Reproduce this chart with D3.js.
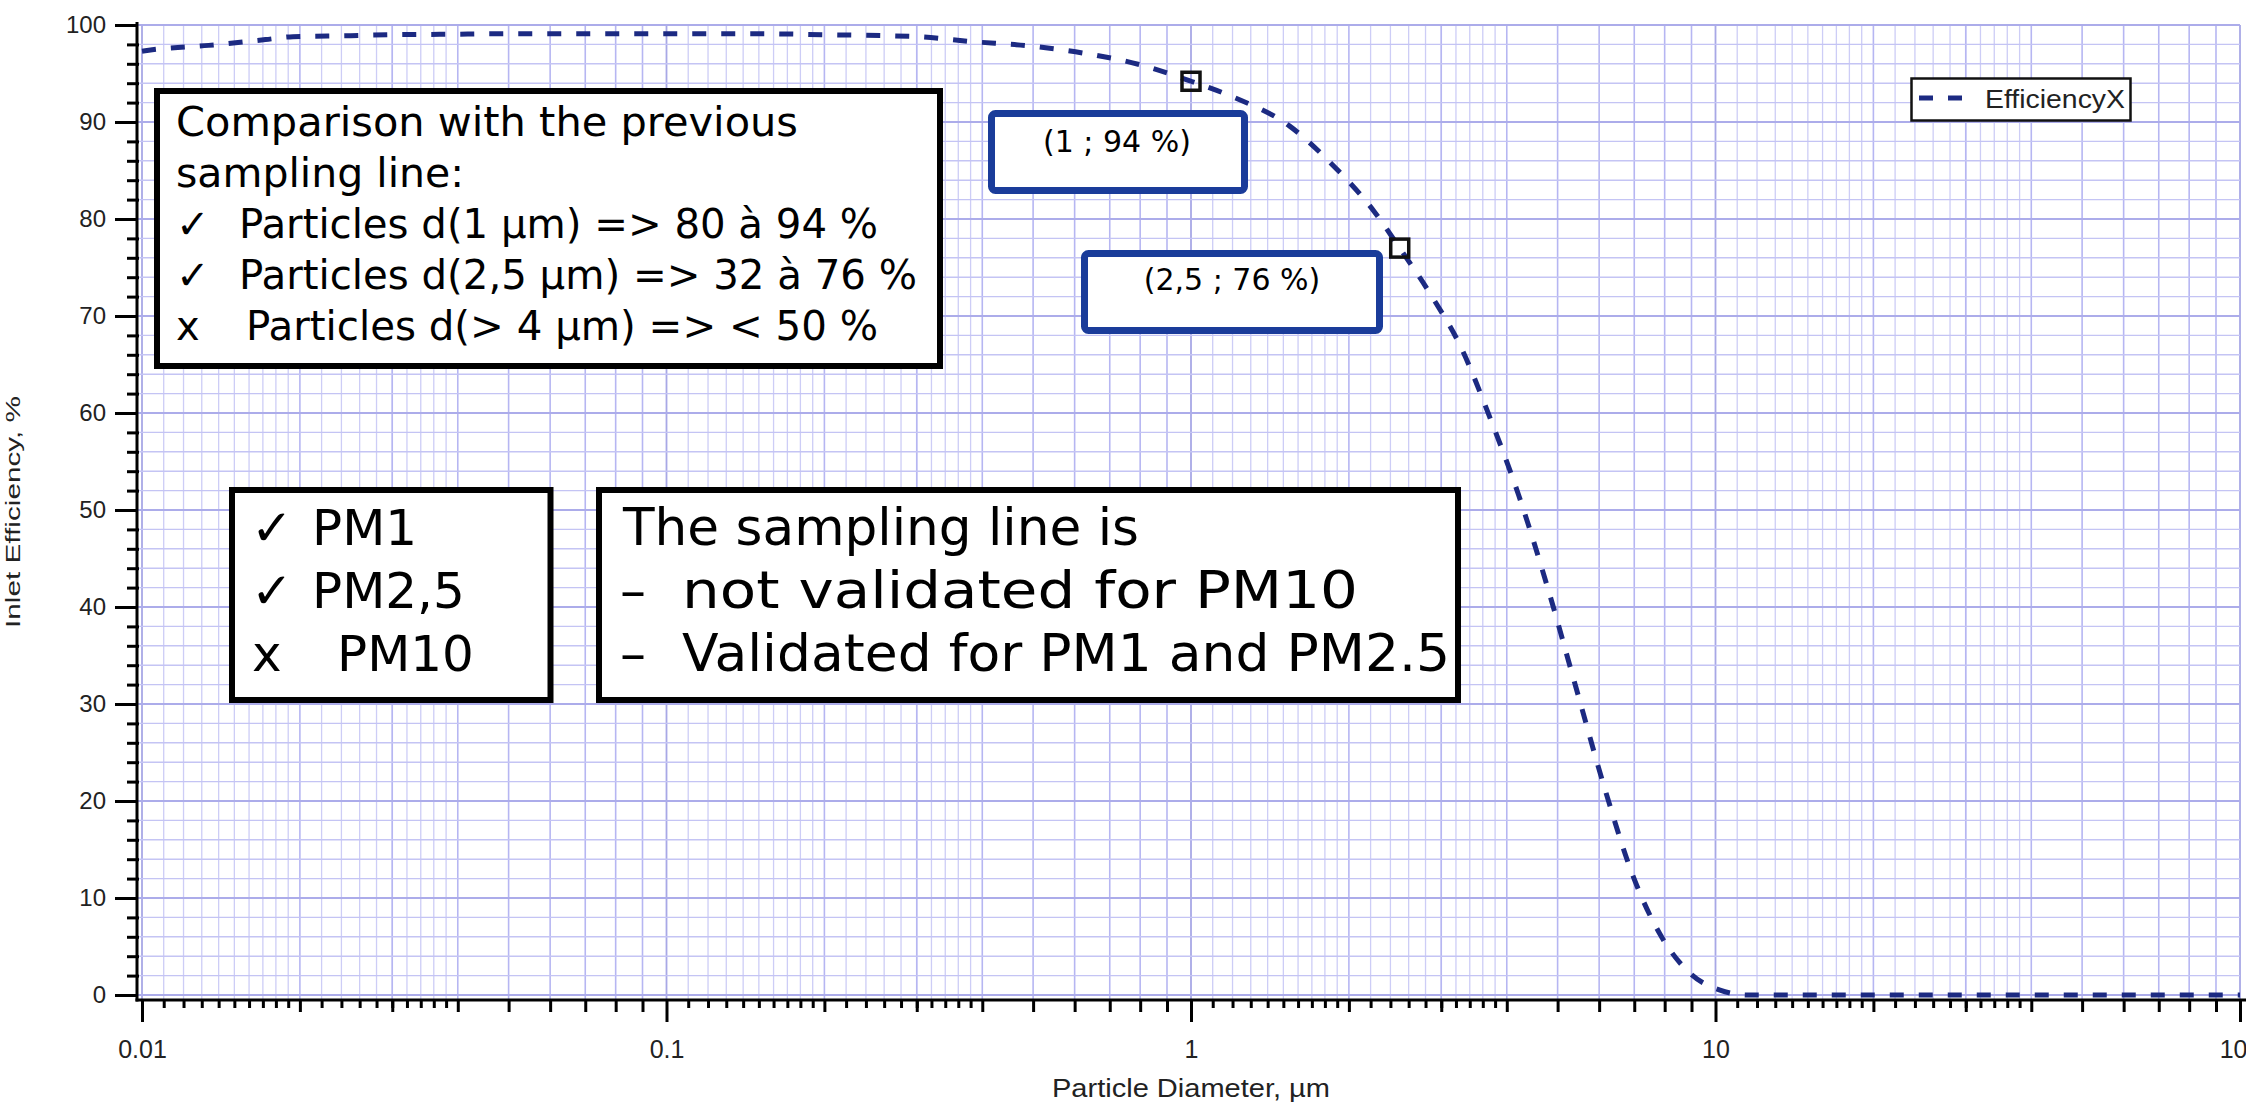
<!DOCTYPE html>
<html><head><meta charset="utf-8">
<script src="https://cdn.jsdelivr.net/npm/d3@7"></script>
<style>html,body{margin:0;padding:0;background:#fff;} svg{display:block;}</style>
</head><body>
<svg id="chart" width="2246" height="1103"></svg>
<script>
// ---- data ----
const diameter   = [0.01, 0.0103, 0.0134, 0.0172, 0.0194, 0.025, 0.03, 0.04, 0.05, 0.07, 0.1, 0.15, 0.2, 0.26, 0.3, 0.38, 0.5, 0.64, 0.8, 1.0, 1.2, 1.54, 1.86, 2.24, 2.5, 2.88, 3.27, 3.71, 4.21, 4.78, 5.42, 6.14, 6.97, 7.91, 8.96, 10.2, 11.5, 15, 20, 30, 50, 70, 100];
const efficiency = [97.3, 97.4, 97.9, 98.5, 98.8, 98.9, 99.0, 99.05, 99.1, 99.1, 99.1, 99.1, 99.0, 98.9, 98.8, 98.3, 97.8, 97.0, 95.9, 94.2, 92.6, 89.6, 85.6, 80.7, 77.0, 72.0, 66.8, 59.6, 51.6, 42.1, 31.7, 21.4, 12.2, 5.9, 2.2, 0.5, 0.0, 0, 0, 0, 0, 0, 0];
const markerDiameter   = [1, 2.5];
const markerEfficiency = [94.2, 77.0];
const markerLabels     = ["(1 ; 94 %)", "(2,5 ; 76 %)"];
const xTickValues = [0.01, 0.1, 1, 10, 100];
const xTickLabels = ["0.01", "0.1", "1", "10", "100"];
const yTickValues = [0, 10, 20, 30, 40, 50, 60, 70, 80, 90, 100];
const yTickLabels = ["0", "10", "20", "30", "40", "50", "60", "70", "80", "90", "100"];
const seriesName = "EfficiencyX";
const xTitle = "Particle Diameter, µm";
const yTitle = "Inlet Efficiency, %";

// ---- layout ----
const svg = d3.select("#chart");
const axisX0 = 137, axisY0 = 1000, plotRight = 2240, plotTop = 25;
const x = d3.scaleLog().domain([0.01, 100]).range([142, 2240]);
const y = d3.scaleLinear().domain([0, 100]).range([995, 25]);
const AX_FONT = "'Liberation Sans', Arial, sans-serif";
const BOX_FONT = "'DejaVu Sans', Verdana, sans-serif";

// log-axis minor structure (per decade)
const subMult = [];
for (let m = 11; m <= 19; m++) subMult.push(m / 10);
for (let m = 22; m <= 38; m += 2) subMult.push(m / 10);
const intMult = [2, 3, 4, 5, 6, 7, 8, 9];
const decades = xTickValues.slice(0, -1);
const subTicks = decades.flatMap(d => subMult.map(m => d * m));
const intTicks = decades.flatMap(d => intMult.map(m => d * m));

svg.append("rect").attr("width", 2246).attr("height", 1103).attr("fill", "#fff");

// ---- grid ----
const grid = svg.append("g");
function vgrid(vals, color, w) {
  grid.append("g").selectAll("line").data(vals).join("line")
    .attr("x1", d => x(d)).attr("x2", d => x(d))
    .attr("y1", plotTop).attr("y2", axisY0)
    .attr("stroke", color).attr("stroke-width", w);
}
function hgrid(vals, color, w) {
  grid.append("g").selectAll("line").data(vals).join("line")
    .attr("x1", axisX0).attr("x2", plotRight)
    .attr("y1", d => y(d)).attr("y2", d => y(d))
    .attr("stroke", color).attr("stroke-width", w);
}
vgrid(subTicks, "#cdcdf6", 1.3);
vgrid(intTicks, "#b6b6f2", 1.6);
vgrid(xTickValues, "#a8a8e6", 1.8);
hgrid(d3.range(0, 101, 2).filter(v => v % 10 !== 0), "#c4c4f4", 1.4);
hgrid(yTickValues, "#acacea", 1.8);

// ---- axes ----
function styleAxis(g) {
  g.select(".domain").remove();
  g.selectAll(".tick line").attr("stroke", "#000").attr("stroke-width", 3);
  g.selectAll(".tick text").attr("fill", "#222").attr("font-family", AX_FONT).attr("font-size", 25);
}
svg.append("g").attr("transform", `translate(0,${axisY0})`)
  .call(d3.axisBottom(x).tickValues(subTicks).tickSize(8).tickFormat(""))
  .call(styleAxis);
svg.append("g").attr("transform", `translate(0,${axisY0})`)
  .call(d3.axisBottom(x).tickValues(intTicks).tickSize(12).tickFormat(""))
  .call(styleAxis);
svg.append("g").attr("transform", `translate(0,${axisY0})`)
  .call(d3.axisBottom(x).tickValues(xTickValues).tickSize(22).tickPadding(18)
    .tickFormat((d, i) => xTickLabels[i]))
  .call(styleAxis);

svg.append("g").attr("transform", `translate(${axisX0 + 2},0)`)
  .call(d3.axisLeft(y).tickValues(d3.range(2, 100, 2).filter(v => v % 10 !== 0)).tickSize(12).tickFormat(""))
  .call(styleAxis);
svg.append("g").attr("transform", `translate(${axisX0},0)`)
  .call(d3.axisLeft(y).tickValues(yTickValues).tickSize(22).tickPadding(9)
    .tickFormat((d, i) => yTickLabels[i]))
  .call(styleAxis)
  .call(g => g.selectAll(".tick text").attr("font-size", 24));

svg.append("line").attr("x1", axisX0).attr("x2", axisX0).attr("y1", plotTop - 3).attr("y2", axisY0 + 1.5)
  .attr("stroke", "#000").attr("stroke-width", 3);
svg.append("line").attr("x1", axisX0 - 1.5).attr("x2", 2246).attr("y1", axisY0).attr("y2", axisY0)
  .attr("stroke", "#000").attr("stroke-width", 3);

// axis titles
svg.append("text").attr("x", x(1)).attr("y", 1097).attr("text-anchor", "middle")
  .attr("font-family", AX_FONT).attr("font-size", 25).attr("fill", "#222")
  .attr("textLength", 278).attr("lengthAdjust", "spacingAndGlyphs").text(xTitle);
svg.append("text").attr("transform", `translate(20,${(y(0) + y(100)) / 2 + 2}) rotate(-90)`)
  .attr("text-anchor", "middle").attr("font-family", AX_FONT).attr("font-size", 20).attr("fill", "#222")
  .attr("textLength", 232).attr("lengthAdjust", "spacingAndGlyphs").text(yTitle);

// ---- series ----
const pts = diameter.map((d, i) => [d, efficiency[i]]);
svg.append("path").datum(pts)
  .attr("d", d3.line().x(d => x(d[0])).y(d => y(d[1])).curve(d3.curveMonotoneX))
  .attr("fill", "none").attr("stroke", "#1c2a82").attr("stroke-width", 5)
  .attr("stroke-dasharray", "14,15");

// markers
svg.append("g").selectAll("rect").data(markerDiameter).join("rect")
  .attr("x", (d, i) => x(d) - 9).attr("y", (d, i) => y(markerEfficiency[i]) - 9)
  .attr("width", 18).attr("height", 18)
  .attr("fill", "none").attr("stroke", "#111").attr("stroke-width", 3.5);

// ---- legend ----
const lg = svg.append("g");
lg.append("rect").attr("x", 1911.5).attr("y", 78.5).attr("width", 219).attr("height", 42)
  .attr("fill", "#fff").attr("stroke", "#111").attr("stroke-width", 2.5);
lg.append("line").attr("x1", 1919).attr("x2", 1966).attr("y1", 98).attr("y2", 98)
  .attr("stroke", "#1c2a82").attr("stroke-width", 5).attr("stroke-dasharray", "14,15");
lg.append("text").attr("x", 1985).attr("y", 108).attr("font-family", AX_FONT).attr("font-size", 25)
  .attr("fill", "#222").attr("textLength", 140).attr("lengthAdjust", "spacingAndGlyphs").text(seriesName);

// ---- callout boxes ----
function box(x0, y0, w, h, sw, stroke, rx) {
  svg.append("rect").attr("x", x0).attr("y", y0).attr("width", w).attr("height", h)
    .attr("rx", rx || 0).attr("fill", "#fff").attr("stroke", stroke).attr("stroke-width", sw);
}
function txt(xp, yp, s, size, anchor, len) {
  const t = svg.append("text").attr("x", xp).attr("y", yp).attr("font-family", BOX_FONT)
    .attr("font-size", size).attr("fill", "#000").attr("text-anchor", anchor || "start").text(s);
  if (len) t.attr("textLength", len).attr("lengthAdjust", "spacingAndGlyphs");
  return t;
}
const calloutPos = [[991.5, 113.5, 253, 77, 1117, 152], [1084.5, 253.5, 295, 77, 1232, 290]];
markerLabels.forEach((lab, i) => {
  const c = calloutPos[i];
  box(c[0], c[1], c[2], c[3], 7, "#1a3c9a", 4);
  txt(c[4], c[5], lab, 30, "middle");
});

// box 1
box(157, 91, 783, 275, 6, "#000");
txt(176, 136, "Comparison with the previous", 41, "start", 622);
txt(176, 187, "sampling line:", 41);
txt(176, 238, "✓", 40); txt(239, 238, "Particles d(1 µm) => 80 à 94 %", 41, "start", 639);
txt(176, 289, "✓", 40); txt(239, 289, "Particles d(2,5 µm) => 32 à 76 %", 41, "start", 678);
txt(176, 340, "x", 40); txt(246, 340, "Particles d(> 4 µm) => < 50 %", 41, "start", 632);

// box 2
box(232, 490, 318.5, 210, 6, "#000");
txt(251, 545, "✓", 50); txt(312, 545, "PM1", 50);
txt(251, 608, "✓", 50); txt(312, 608, "PM2,5", 50);
txt(252, 671, "x", 50); txt(337, 671, "PM10", 50);

// box 3
box(599, 490, 859, 210, 6, "#000");
txt(623, 545, "The sampling line is", 52, "start", 516);
txt(620, 608, "–", 52); txt(682, 608, "not validated for PM10", 52, "start", 676);
txt(620, 671, "–", 52); txt(682, 671, "Validated for PM1 and PM2.5", 52, "start", 768);
</script>
</body></html>
